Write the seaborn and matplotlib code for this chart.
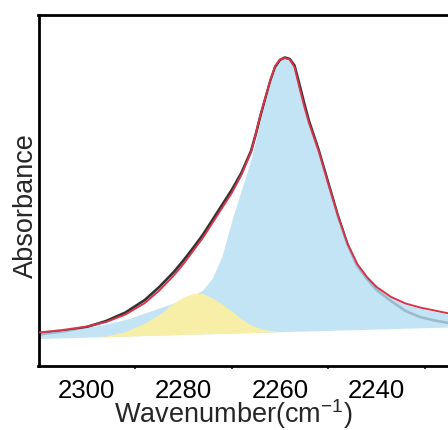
import numpy as np
import pandas as pd
import matplotlib
matplotlib.use("Agg")
import matplotlib.pyplot as plt
import seaborn as sns

# Wavenumber grid (cm^-1) and absorbance traces (arbitrary units)
wavenumber = [2310, 2305, 2300, 2296, 2292, 2288, 2285, 2282, 2280, 2278,
              2276, 2274, 2272, 2270, 2268, 2266, 2265, 2264, 2263, 2262,
              2261, 2260, 2259, 2258, 2257, 2256, 2255, 2254, 2252, 2250,
              2248, 2246, 2244, 2242, 2240, 2237, 2234, 2231, 2228, 2225]

measured = [31.5, 34.5, 39, 45, 53.5, 66, 79, 94, 105.5, 118,
            131, 146, 161, 176, 193, 215, 232, 251, 268, 285,
            299, 306, 308.5, 307, 300.5, 282, 263, 245, 216, 183,
            150, 121, 100, 87, 76, 65, 55, 49, 45.5, 43]

fitted = [33.5, 36, 39.5, 44, 51.5, 63, 75.5, 90.5, 102, 115,
          128, 143, 158, 173, 191, 214, 232.5, 252, 269, 286,
          300, 306.5, 308, 306.5, 299, 279, 260, 243, 215, 182,
          150, 122, 102, 89, 79, 69, 62.5, 58.5, 55.5, 52.5]

band_main = [33, 35.5, 38.5, 42, 46.5, 53, 58, 63, 66.5, 70.5,
             76, 88, 110, 145, 176, 207, 226, 247, 266, 284,
             298, 305, 307, 305.5, 298, 278, 259, 242, 214, 181,
             149, 121, 101, 88, 78, 68, 61.5, 57.5, 54.5, 51.5]

band_shoulder = [27.5, 28.2, 29, 30, 34.5, 43, 51.5, 63, 69, 72.5,
                 72.5, 68, 62, 55, 47, 41, 39, 37.5, 36.5, 35.5,
                 35, 34.5, 34.4, 34.5, 34.7, 34.8, 34.9, 35.1, 35.3, 35.6,
                 35.9, 36.1, 36.4, 36.7, 37.0, 37.4, 37.8, 38.2, 38.6, 39.0]

baseline = [27.5, 28.2, 28.9, 29.4, 29.9, 30.5, 30.9, 31.3, 31.6, 31.8,
            32.1, 32.4, 32.6, 32.9, 33.2, 33.4, 33.6, 33.7, 33.8, 34.0,
            34.1, 34.3, 34.4, 34.5, 34.7, 34.8, 34.9, 35.1, 35.3, 35.6,
            35.9, 36.1, 36.4, 36.7, 37.0, 37.4, 37.8, 38.2, 38.6, 39.0]

tick_positions = [2300, 2280, 2260, 2240]
minor_positions = [2290, 2270, 2250, 2230]

df = pd.DataFrame({
    "wavenumber": wavenumber,
    "measured": measured,
    "fitted": fitted,
    "band_main": band_main,
    "band_shoulder": band_shoulder,
    "baseline": baseline,
})

sns.set_theme(style="white")
plt.rcParams["font.family"] = ["Liberation Sans", "DejaVu Sans"]
plt.rcParams["mathtext.fontset"] = "custom"
plt.rcParams["mathtext.rm"] = "Liberation Sans"

fig = plt.figure(figsize=(4.48, 4.30), dpi=100)
ax = fig.add_axes([38.5 / 448, 64 / 430, 434.7 / 448, 351 / 430])

# measured spectrum underneath the deconvoluted bands
sns.lineplot(data=df, x="wavenumber", y="measured", ax=ax, color="#333333",
             linewidth=1.9, zorder=1)

ax.fill_between(df["wavenumber"], df["baseline"], df["band_main"],
                color="#B4DEF2", alpha=0.8, linewidth=0, zorder=2)
ax.fill_between(df["wavenumber"], df["baseline"], df["band_shoulder"],
                color="#FCF0A2", alpha=0.92, linewidth=0, zorder=3)

sns.lineplot(data=df, x="wavenumber", y="fitted", ax=ax, color="#D8344B",
             linewidth=1.4, zorder=4)

ax.set_xlim(2310, 2220)
ax.set_ylim(0, 351)
ax.set_xticks(tick_positions)
ax.set_xticks(minor_positions, minor=True)
ax.set_yticks([])
ax.tick_params(axis="x", which="major", direction="out", length=4,
               width=1.3, labelsize=18.5, pad=5, colors="black")
ax.tick_params(axis="x", which="minor", direction="out", length=2.5,
               width=1.3, bottom=True)
ax.set_xlabel("Wavenumber(cm$^{\\mathregular{-1}}$)", fontsize=19.5,
              va="baseline")
ax.xaxis.set_label_coords(0.449, -0.162)
ax.set_ylabel("Absorbance", fontsize=19.5)
ax.yaxis.set_label_coords(0.0, 0.456)

for side in ["left", "top", "right", "bottom"]:
    ax.spines[side].set_color("black")
    ax.spines[side].set_linewidth(2.0)

fig.savefig("out.png", dpi=100)
